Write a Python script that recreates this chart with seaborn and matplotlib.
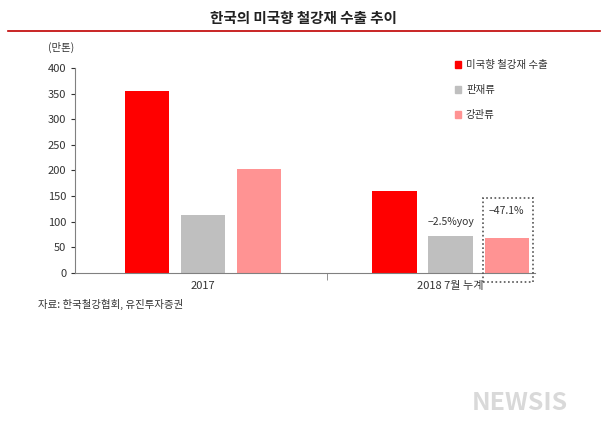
import matplotlib
matplotlib.use("Agg")
import matplotlib.pyplot as plt
import seaborn as sns
import pandas as pd
from matplotlib.patches import Rectangle

plt.rcParams["font.family"] = ["Noto Sans CJK JP", "Noto Sans CJK KR", "Noto Sans CJK SC", "DejaVu Sans"]

periods = ["2017", "2018 7월 누계"]
series = ["미국향 철강재 수출", "판재류", "강관류"]
values_total = [355, 160]
values_plate = [113, 72]
values_pipe = [202, 67]
colors = ["#FF0000", "#BFBFBF", "#FF9393"]

rows = []
for i, p in enumerate(periods):
    for s, v in zip(series, [values_total[i], values_plate[i], values_pipe[i]]):
        rows.append({"period": p, "series": s, "value": v})
df = pd.DataFrame(rows)

fig = plt.figure(figsize=(6.07, 4.33), dpi=100)
ax = fig.add_axes([0.124, 0.370, 0.757, 0.473])
sns.barplot(data=df, x="period", y="value", hue="series", palette=colors,
            width=0.68, gap=0.21, ax=ax, legend=False, saturation=1)
ax.set_xlim(-0.516, 1.34)
ax.set_ylim(0, 400)
ax.set_yticks(range(0, 401, 50))
ax.set_xlabel("")
ax.set_ylabel("")
for s in ["top", "right"]:
    ax.spines[s].set_visible(False)
ax.spines["left"].set_color("#808080")
ax.spines["bottom"].set_color("#808080")
ax.tick_params(axis="both", labelsize=8, colors="#333333", length=3)
ax.tick_params(axis="x", length=0, pad=6)
ax.set_xticks([0.5], minor=True)
ax.tick_params(axis="x", which="minor", length=5, color="#808080")

ax.text(1.0, values_plate[1] + 22, "−2.5%yoy", ha="center", fontsize=7.5, color="#333333")
ax.text(1.225, values_pipe[1] + 48, "−47.1%", ha="center", fontsize=7.5, color="#333333")

fig.add_artist(Rectangle((483/607, 1-282/433), 50/607, 84/433, transform=fig.transFigure,
                         fill=False, ls=(0, (1, 1.5)), lw=1.2, ec="#555555"))

fig.text(0.5, 1-18/433, "한국의 미국향 철강재 수출 추이", ha="center", va="center",
         fontsize=10.5, fontweight="bold", color="#222222")
fig.add_artist(plt.Line2D([8/607, 600/607], [1-31/433]*2, color="#C00000", lw=1.2,
                          transform=fig.transFigure))
fig.text(48/607, 1-47/433, "(만톤)", ha="left", va="center", fontsize=7.5, color="#333333")
for i, (s, c) in enumerate(zip(series, colors)):
    y = 1 - (65 + 25*i)/433
    fig.add_artist(Rectangle((455/607, y-3/433), 6/607, 7/433, color=c, transform=fig.transFigure))
    fig.text(466/607, y, s, va="center", fontsize=7.5, color="#333333")
fig.text(38/607, 1-304/433, "자료: 한국철강협회, 유진투자증권", va="center", fontsize=7.5, color="#333333")
fig.text(520/607, 1-403/433, "NEWSIS", ha="center", va="center", fontsize=18,
         fontweight="bold", style="italic", color="#D9D9D9")

fig.savefig("out.png", dpi=100)
